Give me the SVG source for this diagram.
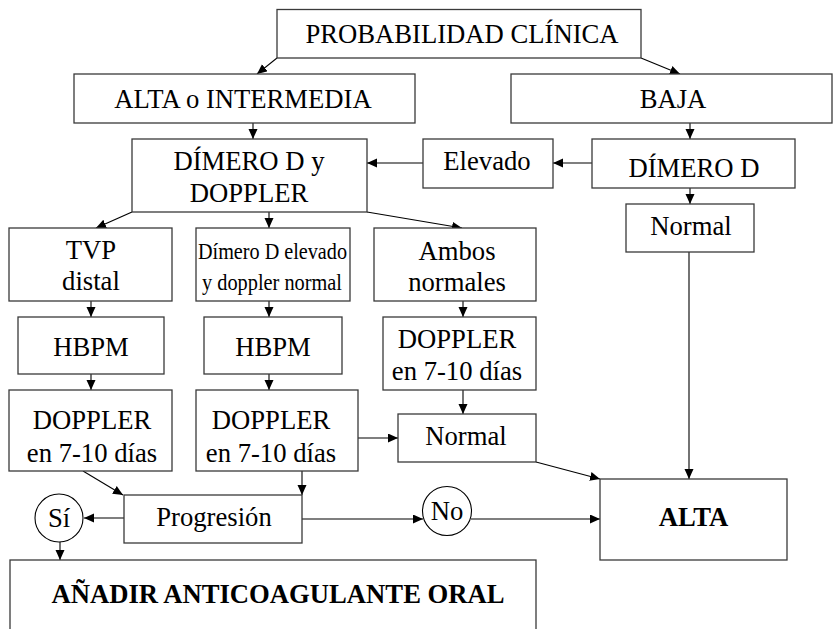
<svg xmlns="http://www.w3.org/2000/svg" width="833" height="629" viewBox="0 0 833 629">
<style>
  .box { fill: #ffffff; stroke: #3a3a3a; stroke-width: 1.3; }
  .t { fill: #000; text-anchor: middle; }
  .c { fill: none; stroke: #000; stroke-width: 1.1; marker-end: url(#ah); }
</style>
<defs>
  <marker id="ah" markerUnits="userSpaceOnUse" markerWidth="11" markerHeight="10" refX="10" refY="4.5" orient="auto">
    <path d="M0,0 L10,4.5 L0,9 z" fill="#000"/>
  </marker>
</defs>
<rect width="833" height="629" fill="#ffffff"/>

<g id="connectors">
  <line class="c" x1="277" y1="58" x2="257" y2="74"/>
  <line class="c" x1="641" y1="58" x2="680" y2="74"/>
  <line class="c" x1="253" y1="123" x2="253" y2="139"/>
  <line class="c" x1="690" y1="123" x2="690" y2="139"/>
  <line class="c" x1="592" y1="163" x2="553" y2="163"/>
  <line class="c" x1="423" y1="163" x2="367" y2="163"/>
  <line class="c" x1="690" y1="188" x2="690" y2="204"/>
  <line class="c" x1="689" y1="252" x2="689" y2="479"/>
  <line class="c" x1="132" y1="212" x2="96" y2="228"/>
  <line class="c" x1="269" y1="212" x2="269" y2="228"/>
  <line class="c" x1="367" y1="212" x2="462" y2="228"/>
  <line class="c" x1="91" y1="301" x2="91" y2="317"/>
  <line class="c" x1="269" y1="301" x2="269" y2="317"/>
  <line class="c" x1="463" y1="301" x2="463" y2="317"/>
  <line class="c" x1="91" y1="374" x2="91" y2="390"/>
  <line class="c" x1="269" y1="374" x2="269" y2="390"/>
  <line class="c" x1="463" y1="390" x2="463" y2="414"/>
  <line class="c" x1="358" y1="438" x2="398" y2="438"/>
  <line class="c" x1="536" y1="462" x2="600" y2="479"/>
  <line class="c" x1="83" y1="471" x2="123" y2="495"/>
  <line class="c" x1="302" y1="471" x2="302" y2="495"/>
  <line class="c" x1="124" y1="518" x2="84" y2="518"/>
  <line class="c" x1="60" y1="542" x2="60" y2="560"/>
  <line class="c" x1="302" y1="519" x2="423" y2="519"/>
  <line class="c" x1="471" y1="519" x2="600" y2="519"/>
</g>

<g id="probabilidad">
  <rect class="box" x="277" y="9.5" width="364" height="48.5"/>
  <text class="t" font-family="Liberation Serif" font-size="26.67" x="462" y="43">PROBABILIDAD CLÍNICA</text>
</g>
<g id="alta-intermedia">
  <rect class="box" x="74" y="74" width="341" height="49"/>
  <text class="t" font-family="Liberation Serif" font-size="26.67" x="243" y="108">ALTA o INTERMEDIA</text>
</g>
<g id="baja">
  <rect class="box" x="511" y="74" width="321" height="49"/>
  <text class="t" font-family="Liberation Serif" font-size="26.67" x="673" y="108">BAJA</text>
</g>
<g id="dimero-doppler">
  <rect class="box" x="132" y="139" width="235" height="73"/>
  <text class="t" font-family="Liberation Serif" font-size="26.67" x="249" y="170">DÍMERO D y</text>
  <text class="t" font-family="Liberation Serif" font-size="26.67" x="249" y="202">DOPPLER</text>
</g>
<g id="elevado">
  <rect class="box" x="423" y="139" width="130" height="49"/>
  <text class="t" font-family="Liberation Serif" font-size="26.67" x="487" y="170">Elevado</text>
</g>
<g id="dimero-d">
  <rect class="box" x="592" y="139" width="203" height="49"/>
  <text class="t" font-family="Liberation Serif" font-size="26.67" x="694" y="177">DÍMERO D</text>
</g>
<g id="normal-baja">
  <rect class="box" x="626" y="204" width="128" height="48"/>
  <text class="t" font-family="Liberation Serif" font-size="26.67" x="691" y="235">Normal</text>
</g>
<g id="tvp-distal">
  <rect class="box" x="9" y="228" width="163" height="73"/>
  <text class="t" font-family="Liberation Serif" font-size="26.67" x="91" y="259">TVP</text>
  <text class="t" font-family="Liberation Serif" font-size="26.67" x="91" y="290">distal</text>
</g>
<g id="dimero-elevado">
  <rect class="box" x="196" y="228" width="154" height="73"/>
  <text class="t" font-family="Liberation Serif" font-size="24" x="272.5" y="259" textLength="149" lengthAdjust="spacingAndGlyphs">Dímero D elevado</text>
  <text class="t" font-family="Liberation Serif" font-size="24" x="272" y="290" textLength="140" lengthAdjust="spacingAndGlyphs">y doppler normal</text>
</g>
<g id="ambos-normales">
  <rect class="box" x="374" y="228" width="162" height="73"/>
  <text class="t" font-family="Liberation Serif" font-size="26.67" x="457" y="260">Ambos</text>
  <text class="t" font-family="Liberation Serif" font-size="26.67" x="457" y="291">normales</text>
</g>
<g id="hbpm-1">
  <rect class="box" x="18" y="317" width="146" height="57"/>
  <text class="t" font-family="Liberation Serif" font-size="26.67" x="91" y="356">HBPM</text>
</g>
<g id="hbpm-2">
  <rect class="box" x="204" y="317" width="138" height="57"/>
  <text class="t" font-family="Liberation Serif" font-size="26.67" x="273" y="356">HBPM</text>
</g>
<g id="doppler-3">
  <rect class="box" x="383" y="317" width="153" height="73"/>
  <text class="t" font-family="Liberation Serif" font-size="26.67" x="457" y="348">DOPPLER</text>
  <text class="t" font-family="Liberation Serif" font-size="26.67" x="457" y="380">en 7-10 días</text>
</g>
<g id="doppler-1">
  <rect class="box" x="9" y="390" width="163" height="81"/>
  <text class="t" font-family="Liberation Serif" font-size="26.67" x="92" y="429">DOPPLER</text>
  <text class="t" font-family="Liberation Serif" font-size="26.67" x="92" y="462">en 7-10 días</text>
</g>
<g id="doppler-2">
  <rect class="box" x="196" y="390" width="162" height="81"/>
  <text class="t" font-family="Liberation Serif" font-size="26.67" x="271" y="429">DOPPLER</text>
  <text class="t" font-family="Liberation Serif" font-size="26.67" x="271" y="462">en 7-10 días</text>
</g>
<g id="normal-mid">
  <rect class="box" x="398" y="414" width="138" height="48"/>
  <text class="t" font-family="Liberation Serif" font-size="26.67" x="466" y="445">Normal</text>
</g>
<g id="progresion">
  <rect class="box" x="124" y="495" width="178" height="48"/>
  <text class="t" font-family="Liberation Serif" font-size="26.67" x="214" y="526">Progresión</text>
</g>
<g id="si">
  <circle cx="59" cy="518" r="24" fill="#fff" stroke="#000" stroke-width="1.1"/>
  <text class="t" font-family="Liberation Serif" font-size="26.67" x="59" y="527">Sí</text>
</g>
<g id="no">
  <circle cx="447" cy="511" r="24.5" fill="#fff" stroke="#000" stroke-width="1.1"/>
  <text class="t" font-family="Liberation Serif" font-size="26.67" x="447" y="520">No</text>
</g>
<g id="alta">
  <rect class="box" x="600" y="479" width="187" height="81"/>
  <text class="t" font-family="Liberation Serif" font-size="26.67" font-weight="bold" x="693.5" y="526">ALTA</text>
</g>
<g id="anadir">
  <rect class="box" x="10" y="560" width="526" height="90"/>
  <text class="t" font-family="Liberation Serif" font-size="26.67" font-weight="bold" x="278" y="603">AÑADIR ANTICOAGULANTE ORAL</text>
</g>
</svg>
